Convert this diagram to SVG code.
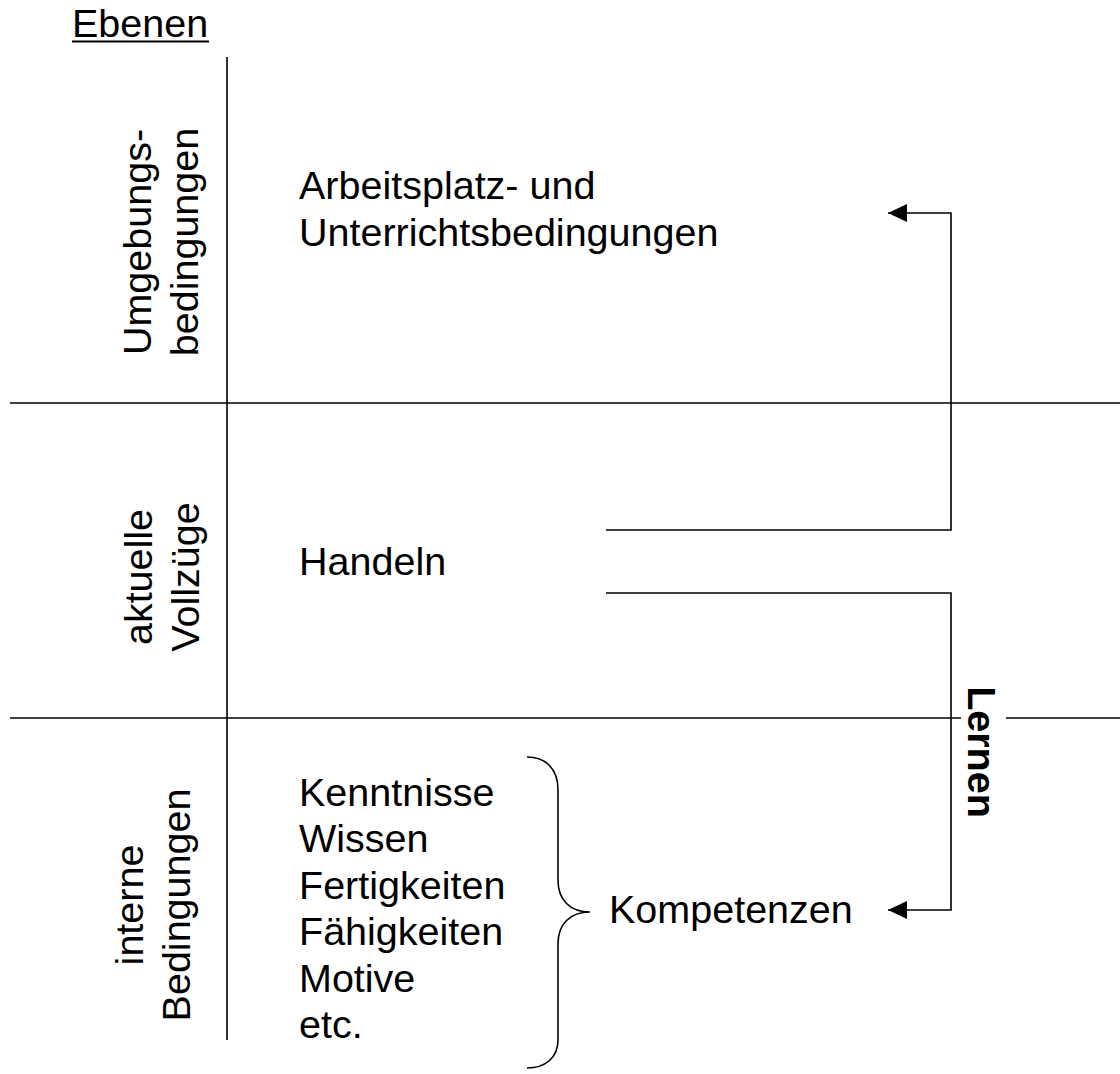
<svg xmlns="http://www.w3.org/2000/svg" width="1120" height="1074" viewBox="0 0 1120 1074">
<style>
  text { font-family: "Liberation Sans", Arial, sans-serif; font-size: 39.5px; fill: #000; }
  .b { font-weight: bold; }
  .ln { stroke: #000; stroke-width: 1.6; fill: none; }
</style>
<defs>
  <marker id="ah" markerWidth="20" markerHeight="18" refX="19" refY="9" orient="auto" markerUnits="userSpaceOnUse">
    <path d="M0,0 L19,9 L0,18 Z" fill="#000"/>
  </marker>
</defs>
<rect width="1120" height="1074" fill="#fff"/>
<g id="grid">
  <line class="ln" x1="227" y1="57" x2="227" y2="1040"/>
  <line class="ln" x1="10" y1="403" x2="1120" y2="403"/>
  <line class="ln" x1="10" y1="718" x2="961" y2="718"/>
  <line class="ln" x1="1006" y1="718" x2="1120" y2="718"/>
</g>
<g id="title">
  <text x="72" y="37">Ebenen</text>
  <line x1="72" y1="41.5" x2="209" y2="41.5" stroke="#000" stroke-width="2"/>
</g>
<g id="level-umgebung">
  <text transform="translate(151,242) rotate(-90)" text-anchor="middle">Umgebungs-</text>
  <text transform="translate(198,242) rotate(-90)" text-anchor="middle">bedingungen</text>
</g>
<g id="level-aktuell">
  <text transform="translate(152,577) rotate(-90)" text-anchor="middle">aktuelle</text>
  <text transform="translate(199,577) rotate(-90)" text-anchor="middle">Vollzüge</text>
</g>
<g id="level-intern">
  <text transform="translate(143,905) rotate(-90)" text-anchor="middle">interne</text>
  <text transform="translate(190,905) rotate(-90)" text-anchor="middle">Bedingungen</text>
</g>
<g id="node-arbeitsplatz">
  <text x="299" y="199">Arbeitsplatz- und</text>
  <text x="299" y="246">Unterrichtsbedingungen</text>
</g>
<g id="node-handeln">
  <text x="299" y="575">Handeln</text>
</g>
<g id="node-list">
  <text x="299" y="806">Kenntnisse</text>
  <text x="299" y="852">Wissen</text>
  <text x="299" y="899">Fertigkeiten</text>
  <text x="299" y="945">Fähigkeiten</text>
  <text x="299" y="992">Motive</text>
  <text x="299" y="1038">etc.</text>
</g>
<g id="brace">
  <path class="ln" d="M527,757 C545,757 558,768 558,790 L558,880 C558,900 570,912 590,912 C570,912 558,924 558,944 L558,1040 C558,1058 545,1068 527,1068"/>
</g>
<g id="node-kompetenzen">
  <text x="609" y="923">Kompetenzen</text>
</g>
<g id="label-lernen">
  <text class="b" transform="translate(968,752) rotate(90)" text-anchor="middle">Lernen</text>
</g>
<g id="connectors">
  <path class="ln" d="M606,530 L951,530 L951,213 L888,213" marker-end="url(#ah)"/>
  <path class="ln" d="M606,593 L951,593 L951,910 L888,910" marker-end="url(#ah)"/>
</g>
</svg>
